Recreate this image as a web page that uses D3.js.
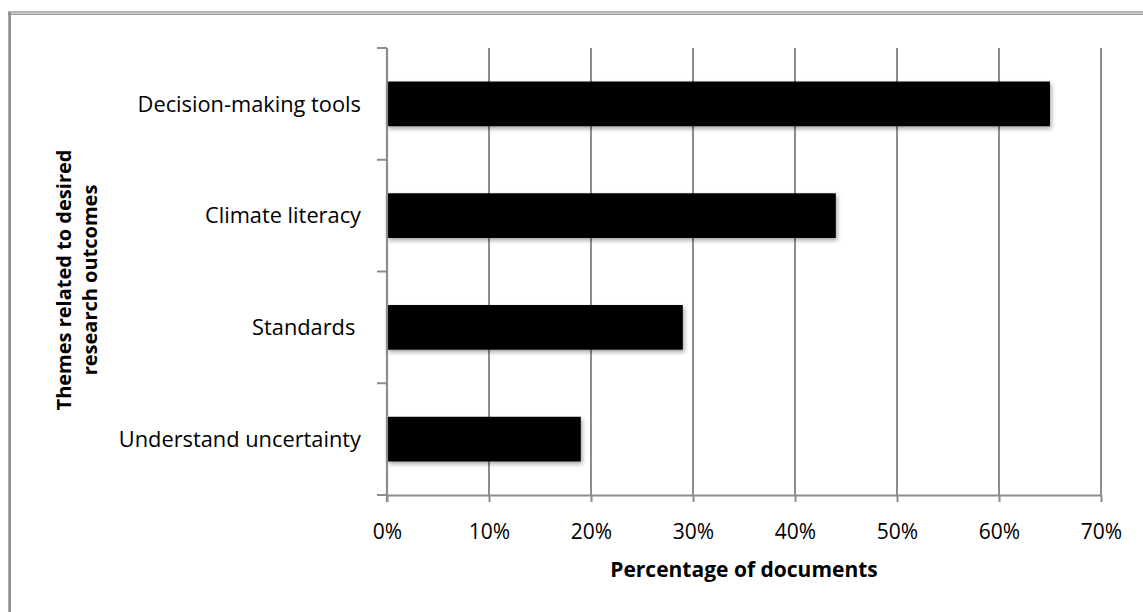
<!DOCTYPE html>
<html>
<head>
<meta charset="utf-8">
<script src="https://cdn.jsdelivr.net/npm/d3@7"></script>
<style>
  html, body { margin: 0; padding: 0; background: #fff; }
  svg { display: block; }
  text { font-family: "Open Sans", "Noto Sans", sans-serif; fill: #000; white-space: pre; }
</style>
</head>
<body>
<svg id="chart" width="1143" height="612"></svg>
<script>
// Themes and share of documents mentioning each one
const categories = ["Decision-making tools", "Climate literacy", "Standards ", "Understand uncertainty"];
const values = [0.65, 0.44, 0.29, 0.19];
const xTicks = [0, 0.1, 0.2, 0.3, 0.4, 0.5, 0.6, 0.7];
const xTitle = "Percentage of documents";
const yTitle = ["Themes related to desired", "research outcomes"];

const svg = d3.select("#chart");
const W = 1143, H = 612;
const plot = { left: 387, right: 1101, top: 48, bottom: 495 };
const gridColor = "#8c8c8c";

// Outer frame (top double rule and left border)
svg.append("line").attr("x1", 8).attr("x2", W).attr("y1", 12).attr("y2", 12)
  .attr("stroke", "#6e6e6e").attr("stroke-width", 1.2);
svg.append("line").attr("x1", 8).attr("x2", W).attr("y1", 14.2).attr("y2", 14.2)
  .attr("stroke", "#9a9a9a").attr("stroke-width", 1.4);
svg.append("line").attr("x1", 9.6).attr("x2", 9.6).attr("y1", 12).attr("y2", H)
  .attr("stroke", "#8a8a8a").attr("stroke-width", 2.6);

const x = d3.scaleLinear().domain([0, 0.7]).range([plot.left, plot.right]);
const y = d3.scaleBand().domain(categories).range([plot.top, plot.bottom])
  .paddingInner(0.6).paddingOuter(0.3);
const yBand = d3.scaleBand().domain(categories).range([plot.top, plot.bottom]);

// Vertical gridlines
svg.append("g").selectAll("line").data(xTicks.slice(1)).join("line")
  .attr("x1", d => x(d)).attr("x2", d => x(d))
  .attr("y1", plot.top).attr("y2", plot.bottom)
  .attr("stroke", gridColor).attr("stroke-width", 2);

// Soft drop shadow under the bars
const defs = svg.append("defs");
const f = defs.append("filter").attr("id", "shadow")
  .attr("x", "-5%").attr("y", "-20%").attr("width", "115%").attr("height", "160%");
f.append("feDropShadow").attr("dx", 1.5).attr("dy", 2.5).attr("stdDeviation", 2)
  .attr("flood-color", "#000").attr("flood-opacity", 0.35);

svg.append("g").selectAll("rect").data(categories).join("rect")
  .attr("x", x(0))
  .attr("y", d => y(d))
  .attr("width", (d, i) => x(values[i]) - x(0))
  .attr("height", y.bandwidth())
  .attr("fill", "#000")
  .attr("filter", "url(#shadow)");

// Bottom axis
const xAxis = d3.axisBottom(x).tickValues(xTicks).tickFormat(d3.format(".0%"))
  .tickSize(7).tickSizeOuter(0).tickPadding(22);
const gx = svg.append("g").attr("transform", `translate(0,${plot.bottom})`).call(xAxis);
gx.select(".domain").attr("stroke", gridColor).attr("stroke-width", 2.2);
gx.selectAll(".tick line").attr("stroke", gridColor).attr("stroke-width", 2);
gx.selectAll(".tick text").attr("font-size", 21).attr("font-family", "Open Sans, sans-serif").attr("fill", "#000");

// Left axis: line with tick marks at band edges
const edges = categories.map(c => yBand(c)).concat([plot.bottom]);
svg.append("line").attr("x1", plot.left).attr("x2", plot.left)
  .attr("y1", plot.top).attr("y2", plot.bottom + 7)
  .attr("stroke", gridColor).attr("stroke-width", 2.2);
svg.append("g").selectAll("line").data(edges).join("line")
  .attr("x1", plot.left - 10).attr("x2", plot.left)
  .attr("y1", d => d).attr("y2", d => d)
  .attr("stroke", gridColor).attr("stroke-width", 2);

// Category labels
svg.append("g").selectAll("text").data(categories).join("text")
  .attr("x", 361)
  .attr("y", d => y(d) + y.bandwidth() / 2)
  .attr("dy", "0.35em")
  .attr("text-anchor", "end")
  .attr("font-size", 21.8)
  .text(d => d);

// Axis titles
svg.append("text")
  .attr("x", 744).attr("y", 577)
  .attr("text-anchor", "middle").attr("font-size", 21).attr("font-weight", "bold")
  .text(xTitle);

const yt = svg.append("text")
  .attr("transform", "translate(71,280) rotate(-90)")
  .attr("text-anchor", "middle").attr("font-size", 20).attr("font-weight", "bold");
yTitle.forEach((line, i) => {
  yt.append("tspan").attr("x", 0).attr("dy", i === 0 ? 0 : 26).text(line);
});
</script>
</body>
</html>
